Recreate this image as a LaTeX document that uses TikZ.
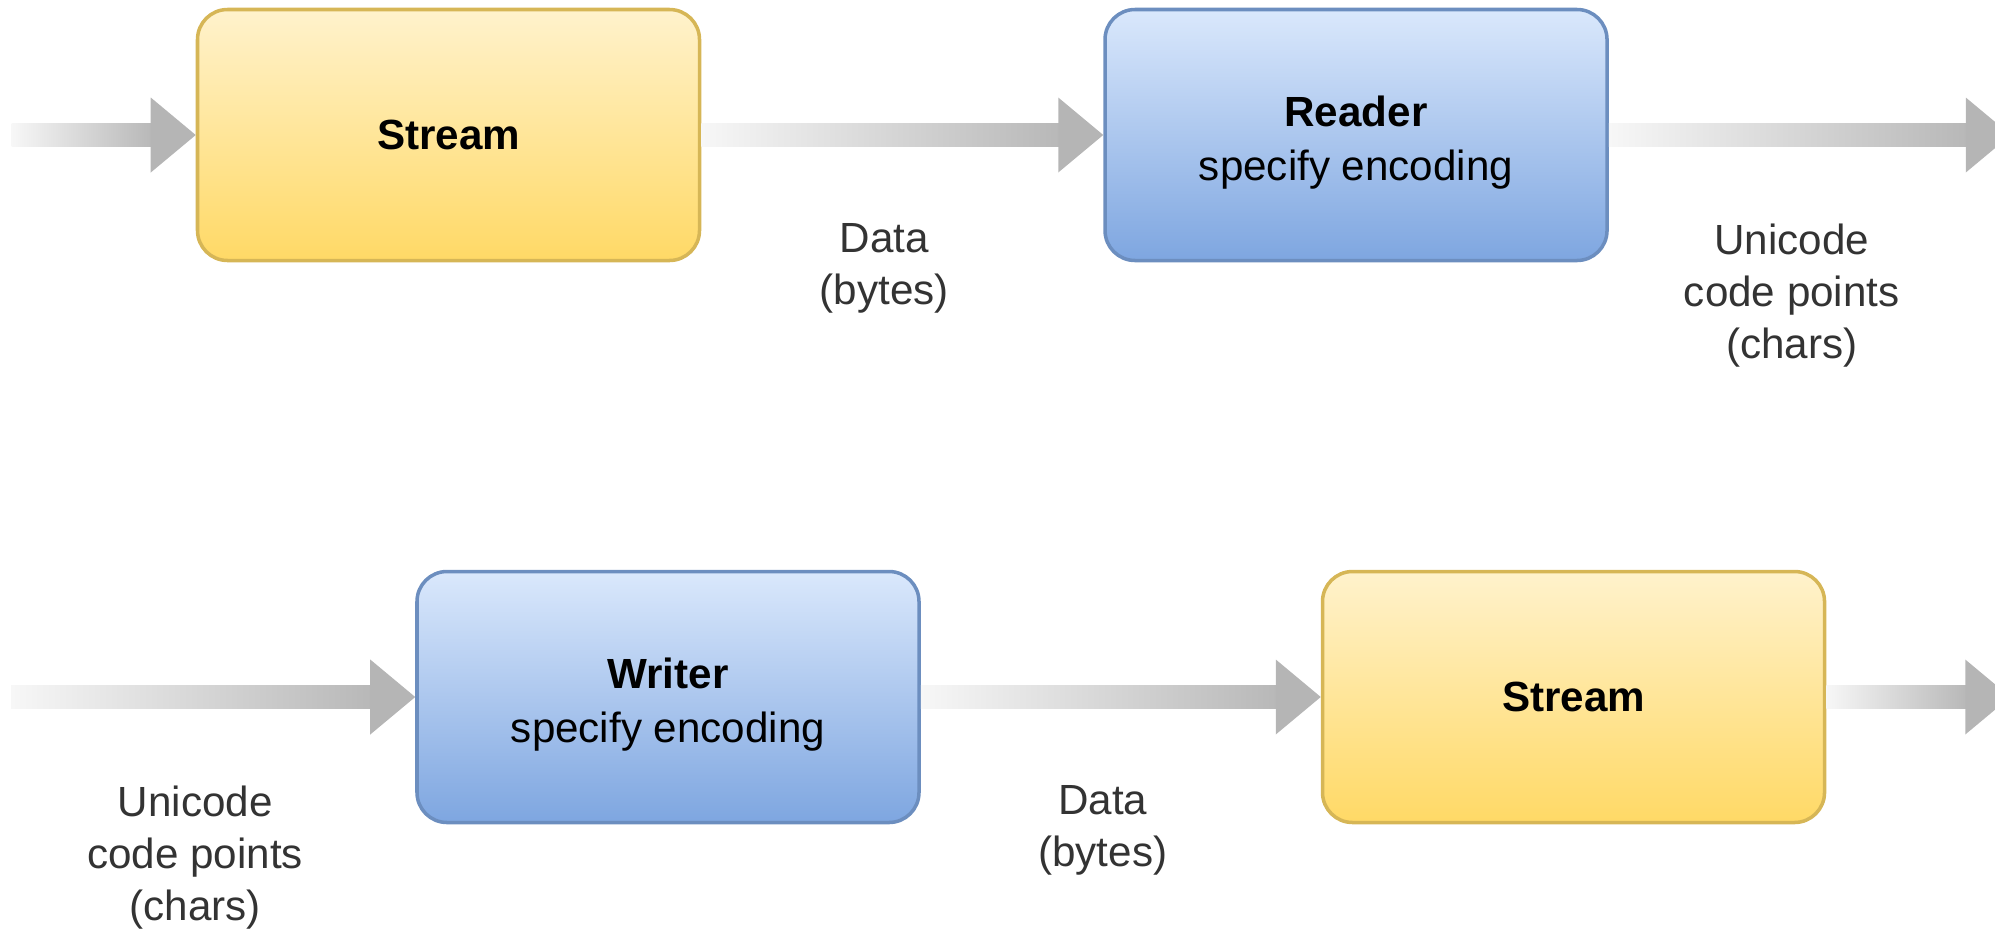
\documentclass[tikz,border=0pt]{standalone}
\usepackage{fontspec}
\setmainfont{Liberation Sans}
\usepackage{xcolor}
\definecolor{streamtop}{HTML}{FFF2CC}
\definecolor{streambot}{HTML}{FFD966}
\definecolor{streamline}{HTML}{D6B656}
\definecolor{codectop}{HTML}{DAE8FC}
\definecolor{codecbot}{HTML}{7EA6E0}
\definecolor{codecline}{HTML}{6C8EBF}
\definecolor{shaftlight}{HTML}{F7F7F7}
\definecolor{shaftdark}{HTML}{B8B8B8}
\definecolor{headgray}{HTML}{B5B5B5}
\definecolor{labelgray}{HTML}{333333}
\usetikzlibrary{calc, positioning}
\tikzset{
    box/.style={
        rectangle, rounded corners=0.3cm,
        line width=1pt,
        minimum width=5.02cm, minimum height=2.51cm,
        align=center, inner sep=0pt,
        font=\fontsize{12}{15.5}\selectfont
    },
    stream/.style={
        box,
        draw=streamline,
        top color=streamtop, bottom color=streambot
    },
    codec/.style={
        box,
        draw=codecline,
        top color=codectop, bottom color=codecbot
    },
    lbl/.style={
        align=center, inner sep=0pt,
        text=labelgray, xshift=-0.18cm,
        font=\fontsize{12}{14.8}\selectfont
    },
}
% taller first line, so the two lines sit a bit lower in the box
\newcommand{\toprow}{\rule{0pt}{13pt}}
% fat grey arrow: faded shaft, solid head
\newcommand{\flowarrow}[2]{%
    \shade[left color=shaftlight, right color=shaftdark]
        ($(#1)+(0,-0.115)$) rectangle ($(#2)+(-0.44,0.115)$);
    \fill[headgray] ($(#2)+(-0.45,0.375)$) -- (#2) -- ($(#2)+(-0.45,-0.375)$) -- cycle;
}

\begin{document}
\begin{tikzpicture}
        \useasboundingbox (0,0) rectangle (19.95,9.31);

        \node[stream] (s1) at (4.485,7.96) {\textbf{Stream}};
        \node[codec, right=4.02cm of s1] (rd) {\toprow\textbf{Reader}\\specify encoding};

        \node[codec] (wr) at (6.68,2.34) {\toprow\textbf{Writer}\\specify encoding};
        \node[stream, right=4.0cm of wr] (s2) {\textbf{Stream}};

        \coordinate[left=1.84cm of s1.west] (in1);
        \coordinate[right=4.02cm of rd.east] (out1);
        \coordinate[left=4.04cm of wr.west] (in2);
        \coordinate[right=1.84cm of s2.east] (out2);

        \foreach \a/\b in {in1/s1.west, s1.east/rd.west, rd.east/out1,
                           in2/wr.west, wr.east/s2.west, s2.east/out2}
            \flowarrow{\a}{\b};

        \path (s1.east) -- (rd.west) node[lbl, midway, below=0.88cm] (d1) {Data\\(bytes)};
        \path (rd.east) -- (out1) node[lbl, midway, below=0.88cm] (u1) {Unicode\\code points\\(chars)};
        \path (in2) -- (wr.west) node[lbl, midway, below=0.88cm] (u2) {Unicode\\code points\\(chars)};
        \path (wr.east) -- (s2.west) node[lbl, midway, below=0.88cm] (d2) {Data\\(bytes)};
    \end{tikzpicture}
\end{document}
